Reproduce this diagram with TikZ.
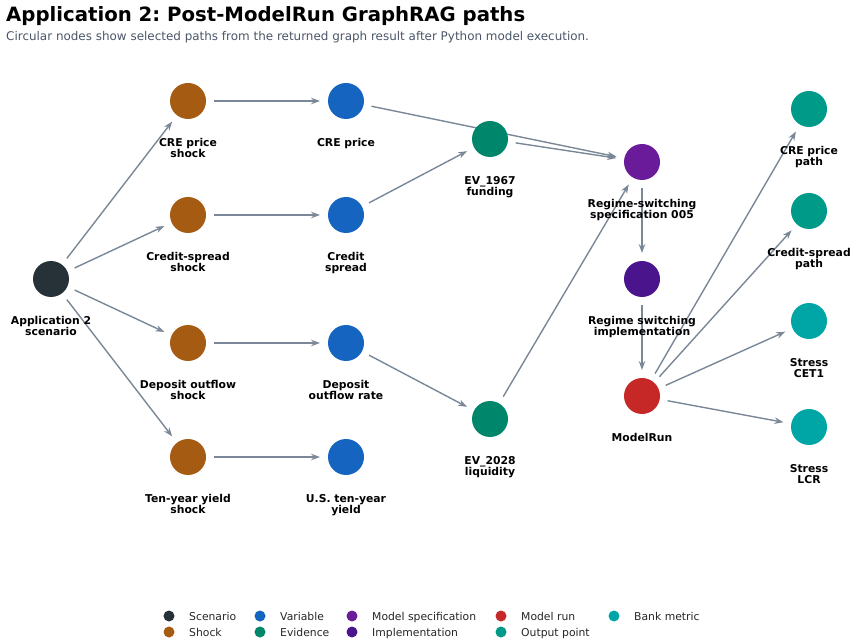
\documentclass[tikz,border=0pt]{standalone}
\usepackage{fontspec}
\setmainfont{DejaVu Sans}
\usetikzlibrary{arrows.meta}
\definecolor{cScen}{HTML}{263238}
\definecolor{cShock}{HTML}{A65B13}
\definecolor{cVar}{HTML}{1565C0}
\definecolor{cEv}{HTML}{00866A}
\definecolor{cSpec}{HTML}{6A1B9A}
\definecolor{cImpl}{HTML}{4A148C}
\definecolor{cRun}{HTML}{C62828}
\definecolor{cOut}{HTML}{009A88}
\definecolor{cBank}{HTML}{00A6A6}
\definecolor{cEdge}{HTML}{7A8796}
\definecolor{cSub}{HTML}{4A5568}
\tikzset{
  dot/.style={circle,fill=#1,draw=none,minimum size=36pt,inner sep=0pt},
  lbl/.style={anchor=north,align=center,inner sep=0pt,font=\fontsize{10.8}{11}\selectfont\bfseries},
  conn/.style={draw=cEdge,line width=1.4pt,-{Stealth[length=9pt,width=6.5pt]},shorten >=26pt,shorten <=26pt},
  legdot/.style={circle,fill=#1,draw=none,minimum size=11pt,inner sep=0pt},
  legtxt/.style={anchor=base west,inner sep=0pt,font=\fontsize{10.8}{12}\selectfont,text=black!85}
}
\newcommand{\mypt}[3]{\coordinate (#1) at (#2,#3);}
\newcommand{\nd}[3]{\node[dot=#2] (#1n) at (#1) {}; \node[lbl] (#1l) at ([yshift=-37.5pt]#1) {#3};}
\begin{document}
\frenchspacing
\begin{tikzpicture}[x=1pt,y=-1pt]
\useasboundingbox (0,0) rectangle (857,644);
\node[anchor=base west,inner sep=0pt,font=\fontsize{19.7}{22}\selectfont\bfseries] (title) at (6,21.5) {Application 2: Post-ModelRun GraphRAG paths};
\node[anchor=base west,inner sep=0pt,font=\fontsize{11.95}{14}\selectfont,text=cSub] (sub) at (6,40.5) {Circular nodes show selected paths from the returned graph result after Python model execution.};
\mypt{scen}{51}{279}
\mypt{s1}{188}{101}
\mypt{s2}{188}{215}
\mypt{s3}{188}{343}
\mypt{s4}{188}{457}
\mypt{v1}{346}{101}
\mypt{v2}{346}{215}
\mypt{v3}{346}{343}
\mypt{v4}{346}{457}
\mypt{e1}{490}{139}
\mypt{e2}{490}{419}
\mypt{spec}{642}{162}
\mypt{impl}{642}{279}
\mypt{run}{642}{396}
\mypt{o1}{809}{109}
\mypt{o2}{809}{211}
\mypt{m1}{809}{321}
\mypt{m2}{809}{427}
\draw[conn] (scen) -- (s1);
\draw[conn] (scen) -- (s2);
\draw[conn] (scen) -- (s3);
\draw[conn] (scen) -- (s4);
\draw[conn] (s1) -- (v1);
\draw[conn] (s2) -- (v2);
\draw[conn] (s3) -- (v3);
\draw[conn] (s4) -- (v4);
\draw[conn] (v1) -- (spec);
\draw[conn] (v2) -- (e1);
\draw[conn] (v3) -- (e2);
\draw[conn] (e1) -- (spec);
\draw[conn] (e2) -- (spec);
\draw[conn] (spec) -- (impl);
\draw[conn] (impl) -- (run);
\draw[conn] (run) -- (o1);
\draw[conn] (run) -- (o2);
\draw[conn] (run) -- (m1);
\draw[conn] (run) -- (m2);
\nd{scen}{cScen}{Application 2\\scenario}
\nd{s1}{cShock}{CRE price\\shock}
\nd{s2}{cShock}{Credit-spread\\shock}
\nd{s3}{cShock}{Deposit outflow\\shock}
\nd{s4}{cShock}{Ten-year yield\\shock}
\nd{v1}{cVar}{CRE price}
\nd{v2}{cVar}{Credit\\spread}
\nd{v3}{cVar}{Deposit\\outflow rate}
\nd{v4}{cVar}{U.S. ten-year\\yield}
\nd{e1}{cEv}{EV\_1967\\funding}
\nd{e2}{cEv}{EV\_2028\\liquidity}
\nd{spec}{cSpec}{Regime-switching\\specification 005}
\nd{impl}{cImpl}{Regime switching\\implementation}
\nd{run}{cRun}{ModelRun}
\nd{o1}{cOut}{CRE price\\path}
\nd{o2}{cOut}{Credit-spread\\path}
\nd{m1}{cBank}{Stress\\CET1}
\nd{m2}{cBank}{Stress\\LCR}
% legend
\node[legdot=cScen] (lg1) at (169,616) {}; \node[legtxt] (lt1) at (189,620) {Scenario};
\node[legdot=cShock] (lg2) at (169,632) {}; \node[legtxt] (lt2) at (189,636) {Shock};
\node[legdot=cVar] (lg3) at (260,616) {}; \node[legtxt] (lt3) at (280,620) {Variable};
\node[legdot=cEv] (lg4) at (260,632) {}; \node[legtxt] (lt4) at (280,636) {Evidence};
\node[legdot=cSpec] (lg5) at (352,616) {}; \node[legtxt] (lt5) at (372,620) {Model specification};
\node[legdot=cImpl] (lg6) at (352,632) {}; \node[legtxt] (lt6) at (372,636) {Implementation};
\node[legdot=cRun] (lg7) at (501,616) {}; \node[legtxt] (lt7) at (521,620) {Model run};
\node[legdot=cOut] (lg8) at (501,632) {}; \node[legtxt] (lt8) at (521,636) {Output point};
\node[legdot=cBank] (lg9) at (614,616) {}; \node[legtxt] (lt9) at (634,620) {Bank metric};
\end{tikzpicture}
\end{document}
